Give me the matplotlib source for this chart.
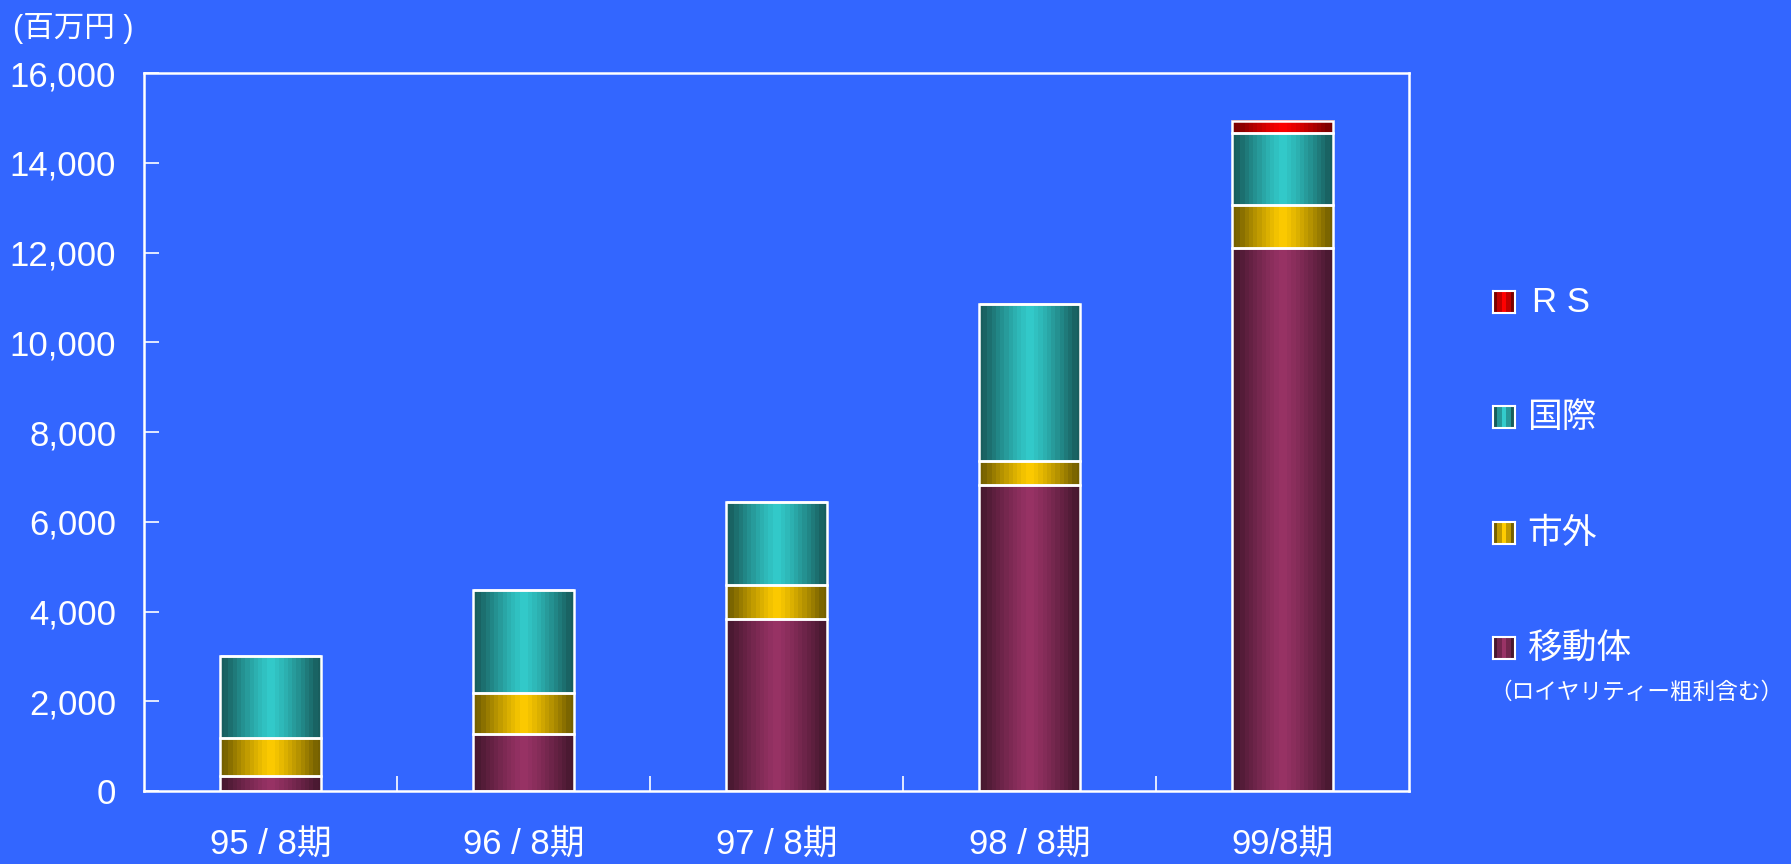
import numpy as np
import matplotlib
matplotlib.use("Agg")
import matplotlib.pyplot as plt
from matplotlib.colors import to_rgb

# データ（百万円）
periods = ["95 / 8期", "96 / 8期", "97 / 8期", "98 / 8期", "99/8期"]
idou = [340, 1280, 3830, 6830, 12090]      # 移動体
shigai = [850, 910, 770, 520, 970]         # 市外
kokusai = [1820, 2290, 1830, 3510, 1600]   # 国際
rs = [0, 0, 0, 0, 270]                     # RS

series_names = ["移動体", "市外", "国際", "RS"]
centre_cols = ["#993366", "#FFCC00", "#33CCCC", "#FF0000"]
edge_cols = ["#481830", "#756000", "#185e5e", "#7a0000"]

BG = "#3366FF"
JP = ["Liberation Sans", "Noto Sans CJK JP", "DejaVu Sans"]
plt.rcParams["font.family"] = JP


def gradient_row(c_edge, c_mid, n=24):
    # 横方向のグラデーション（端が暗く中央が明るい）
    t = np.abs(np.linspace(-1, 1, n))
    t = np.clip(t * 1.05, 0, 1) ** 1.2
    a = np.array(to_rgb(c_mid))
    b = np.array(to_rgb(c_edge))
    return (a[None, :] * (1 - t[:, None]) + b[None, :] * t[:, None])[None, :, :]


fig = plt.figure(figsize=(17.91, 8.64), dpi=100, facecolor=BG)
ax = fig.add_axes([144 / 1791, 73 / 864, (1409 - 144) / 1791, (791 - 73) / 864])
ax.set_facecolor(BG)

width = 0.4
x = np.arange(len(periods))
bottoms = np.zeros(len(periods))
for vals, cm, ce in zip([idou, shigai, kokusai, rs], centre_cols, edge_cols):
    vals = np.array(vals, dtype=float)
    ax.bar(x, vals, width, bottom=bottoms, color="none",
           edgecolor="white", linewidth=1.8, zorder=3)
    img = gradient_row(ce, cm)
    for xi, b, v in zip(x, bottoms, vals):
        if v <= 0:
            continue
        ax.imshow(img, extent=[xi - width / 2, xi + width / 2, b, b + v],
                  aspect="auto", interpolation="nearest", zorder=2)
    bottoms = bottoms + vals

ax.set_xlim(-0.5, 4.5)
ax.set_ylim(0, 16000)
ax.set_yticks(np.arange(0, 16001, 2000))
ax.set_yticklabels([f"{v:,}" for v in range(0, 16001, 2000)])
ax.set_xticks(x)
ax.set_xticklabels(periods)
ax.set_xticks(np.arange(0.5, 4.5, 1), minor=True)

for s in ax.spines.values():
    s.set_color("white")
    s.set_linewidth(1.8)
ax.tick_params(axis="y", direction="in", length=11, width=1.2, colors="white",
               labelsize=25, pad=20)
ax.tick_params(axis="x", which="major", length=0, colors="white",
               labelsize=25, pad=27)
ax.tick_params(axis="x", which="minor", direction="in", length=11, width=1.2,
               colors="white")
for lab in ax.get_xticklabels() + ax.get_yticklabels():
    lab.set_family(JP)

fig.text(13 / 1791, 1 - 29 / 864, "(百万円 )", color="white", fontsize=22,
         va="center", ha="left", family=JP)

# 凡例
leg_y = [302, 417, 533, 648]
leg_order = [3, 2, 1, 0]
for yy, k in zip(leg_y, leg_order):
    lax = fig.add_axes([1493 / 1791, 1 - (yy + 11) / 864, 22 / 1791, 22 / 864])
    lax.imshow(gradient_row(edge_cols[k], centre_cols[k], n=5),
               aspect="auto", interpolation="nearest")
    lax.set_xticks([])
    lax.set_yticks([])
    for s in lax.spines.values():
        s.set_color("white")
        s.set_linewidth(1.5)
    name = "R S" if series_names[k] == "RS" else series_names[k]
    fig.text((1532 if k == 3 else 1527) / 1791, 1 - yy / 864, name,
             color="white", fontsize=25, va="center", ha="left", family=JP)

fig.text(1489 / 1791, 1 - 692 / 864, "（ロイヤリティー粗利含む）", color="white",
         fontsize=16.3, va="center", ha="left", family=JP)

fig.savefig("out.png", dpi=100, facecolor=BG)
